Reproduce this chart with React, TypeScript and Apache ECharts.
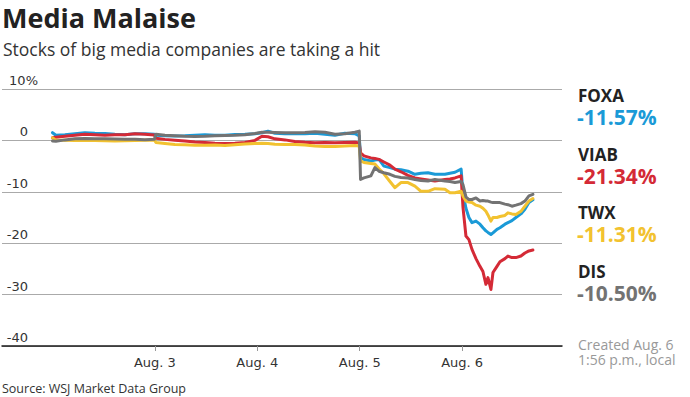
import React, { useEffect, useRef } from "react";
import * as echarts from "echarts";

// time in trading days since open of Jul 31 (1 = Aug. 3 open, ... 4 = Aug. 6 open)
const t = [
  0, 0.033, 0.121, 0.219, 0.316, 0.414, 0.512, 0.609, 0.707, 0.805, 0.902, 0.995,
  1.01, 1.098, 1.195, 1.293, 1.391, 1.488, 1.586, 1.684, 1.781, 1.879, 1.977,
  2.045, 2.104, 2.172, 2.27, 2.367, 2.465, 2.563, 2.66, 2.758, 2.855, 2.953, 2.995,
  3.008, 3.041, 3.109, 3.148, 3.188, 3.236, 3.295, 3.344, 3.402, 3.471, 3.539,
  3.598, 3.666, 3.734, 3.832, 3.881, 3.93, 3.99, 4.008, 4.037, 4.066, 4.096,
  4.135, 4.174, 4.203, 4.232, 4.252, 4.281, 4.301, 4.34, 4.369, 4.418, 4.447,
  4.486, 4.525, 4.574, 4.613, 4.652, 4.691,
];

const foxa = [
  1.5, 1.0, 1.1, 1.3, 1.5, 1.4, 1.35, 1.2, 1.1, 1.3, 1.3, 1.2,
  1.0, 0.9, 0.85, 0.9, 1.0, 1.1, 1.0, 1.0, 1.15, 1.2, 1.3,
  1.5, 1.8, 1.4, 1.3, 1.35, 1.3, 1.4, 1.2, 1.0, 1.4, 1.3, 0.9,
  -3.4, -3.7, -4.0, -3.8, -3.7, -5.0, -5.3, -5.6, -5.7, -6.0, -6.6,
  -6.4, -6.3, -6.6, -6.6, -6.4, -6.2, -5.6, -10.2, -13.2, -15.0, -16.0,
  -15.7, -16.3, -17.0, -17.6, -17.9, -18.3, -18.0, -17.3, -17.0, -16.3, -16.0,
  -15.6, -15.0, -14.3, -13.4, -12.1, -11.57,
];

const viab = [
  0.5, 0.6, 0.8, 1.0, 1.2, 1.1, 1.0, 1.1, 1.1, 1.3, 1.2, 1.05,
  0.4, 0.2, 0.05, -0.1, -0.3, -0.4, -0.55, -0.6, -0.55, -0.4, 0.0,
  0.8, 0.7, 0.3, 0.1, -0.2, -0.35, -0.45, -0.4, -0.45, -0.4, -0.35, -0.5,
  -2.4, -3.0, -3.4, -3.5, -3.7, -4.2, -4.8, -5.6, -6.1, -6.8, -7.3,
  -7.5, -7.7, -7.9, -7.6, -7.5, -7.3, -6.9, -13.0, -18.6, -19.3, -21.2,
  -23.0, -24.5, -25.5, -28.0, -26.7, -29.0, -25.7, -24.5, -23.6, -23.0, -22.5,
  -22.8, -22.8, -22.5, -21.9, -21.5, -21.34,
];

const twx = [
  0.5, 0.05, 0.05, 0.0, 0.05, 0.0, -0.05, -0.1, -0.05, 0.0, 0.05, 0.05,
  -0.4, -0.6, -0.8, -0.85, -0.95, -0.95, -0.9, -1.0, -0.85, -0.7, -0.6,
  -0.55, -0.6, -0.75, -0.8, -0.8, -0.9, -1.1, -1.2, -1.2, -1.1, -1.0, -1.1,
  -4.0, -4.3, -4.5, -4.6, -5.5, -6.5, -8.0, -9.2, -8.2, -8.2, -8.9,
  -9.9, -9.9, -9.4, -9.5, -10.2, -10.2, -9.9, -10.8, -11.8, -12.0, -12.1,
  -12.6, -12.8, -13.2, -13.8, -14.5, -15.7, -15.0, -15.0, -14.8, -14.6, -14.1,
  -14.3, -14.4, -13.8, -12.8, -11.8, -11.31,
];

const dis = [
  -0.1, -0.15, 0.1, 0.3, 0.35, 0.3, 0.3, 0.25, 0.2, 0.2, 0.15, 0.2,
  1.2, 1.0, 0.9, 0.8, 0.75, 0.8, 0.9, 0.95, 1.0, 1.1, 1.35,
  1.6, 1.6, 1.55, 1.5, 1.5, 1.55, 1.7, 1.6, 1.2, 1.3, 1.6, 1.8,
  -7.6, -7.3, -6.9, -5.3, -6.0, -6.3, -6.6, -7.0, -7.2, -7.3, -7.6,
  -7.8, -7.9, -7.6, -7.9, -8.0, -8.2, -8.0, -8.6, -11.0, -11.5, -11.5,
  -11.2, -11.8, -11.7, -11.8, -11.8, -12.0, -12.1, -12.1, -12.1, -12.4, -12.5,
  -12.8, -12.6, -12.3, -11.8, -10.8, -10.5,
];

const tickers = ["FOXA", "VIAB", "TWX", "DIS"];
const finalChanges = ["-11.57%", "-21.34%", "-11.31%", "-10.50%"];
const colors = ["#1a9ad7", "#d42a36", "#f2c230", "#737373"];
const seriesValues = [foxa, viab, twx, dis];
const dayTicks = [1, 2, 3, 4];
const dayLabels = ["Aug. 3", "Aug. 4", "Aug. 5", "Aug. 6"];
const yTicks = [10, 0, -10, -20, -30, -40];

const FONT = "'Open Sans', sans-serif";
const AXFONT = "'DejaVu Sans', sans-serif";

export default function App() {
  const ref = useRef<HTMLDivElement>(null);
  useEffect(() => {
    document.body.style.margin = "0";
    const chart = echarts.init(ref.current!, null, { renderer: "svg" });

    const legendTexts: any[] = [];
    const legendTop = [95.5, 154, 212, 271];
    tickers.forEach((tk, i) => {
      legendTexts.push({
        type: "text",
        x: 578,
        y: legendTop[i],
        style: {
          text: tk,
          font: `bold 17px ${FONT}`,
          lineHeight: 16,
          fill: "#222",
          verticalAlign: "middle",
        },
      });
      legendTexts.push({
        type: "text",
        x: 577,
        y: legendTop[i] + 21.5,
        style: {
          text: finalChanges[i],
          font: `bold 21px ${FONT}`,
          lineHeight: 20,
          fill: colors[i],
          verticalAlign: "middle",
        },
      });
    });

    const option: any = {
      animation: false,
      grid: { left: 2, right: 128, top: 89, bottom: 51, containLabel: false },
      xAxis: {
        type: "value",
        min: -0.493,
        max: 4.975,
        splitLine: { show: false },
        axisLine: { show: true, onZero: false, lineStyle: { color: "#1a1a1a", width: 1.5 } },
        axisTick: {
          show: true,
          customValues: dayTicks,
          length: 5,
          lineStyle: { color: "#999", width: 1 },
        },
        axisLabel: {
          customValues: dayTicks,
          formatter: (v: number) => dayLabels[Math.round(v) - 1] ?? "",
          color: "#333",
          fontFamily: AXFONT,
          fontSize: 13,
          margin: 10,
        },
      },
      yAxis: {
        type: "value",
        min: -40,
        max: 10,
        interval: 10,
        axisLine: { show: false },
        axisTick: { show: false },
        splitLine: { show: true, lineStyle: { color: "#aaaaaa", width: 1 } },
        axisLabel: {
          inside: true,
          margin: 0,
          align: "left",
          verticalAlign: "bottom",
          padding: [0, 0, 2, 0],
          showMinLabel: true,
          showMaxLabel: true,
          formatter: (v: number) =>
            yTicks.includes(v) ? (v === 10 ? `{w|${v}%}` : `{n|${v}}`) : "",
          rich: {
            n: { width: 26, align: "right", fontFamily: AXFONT, fontSize: 13, color: "#333" },
            w: { width: 36, align: "right", fontFamily: AXFONT, fontSize: 13, color: "#333" },
          },
        },
      },
      series: seriesValues.map((vals, i) => ({
        name: tickers[i],
        type: "line",
        showSymbol: false,
        symbol: "none",
        data: t.map((x, j) => [x, vals[j]]),
        lineStyle: { color: colors[i], width: 3, join: "round", cap: "round" },
        itemStyle: { color: colors[i] },
        z: 2 + i,
      })),
      graphic: [
        {
          type: "text",
          x: 2,
          y: 17,
          style: {
            text: "Media Malaise",
            font: `bold 27px ${FONT}`,
            fill: "#222",
            verticalAlign: "middle",
          },
        },
        {
          type: "text",
          x: 3,
          y: 49,
          style: {
            text: "Stocks of big media companies are taking a hit",
            font: `17.5px ${FONT}`,
            fill: "#333",
            verticalAlign: "middle",
          },
        },
        {
          type: "text",
          x: 2,
          y: 388,
          style: {
            text: "Source: WSJ Market Data Group",
            font: `12.5px ${FONT}`,
            fill: "#333",
            verticalAlign: "middle",
          },
        },
        {
          type: "text",
          x: 578,
          y: 344,
          style: {
            text: "Created Aug. 6",
            font: `14px ${FONT}`,
            lineHeight: 13,
            fill: "#999",
            verticalAlign: "middle",
          },
        },
        {
          type: "text",
          x: 578,
          y: 359,
          style: {
            text: "1:56 p.m., local",
            font: `14px ${FONT}`,
            lineHeight: 13,
            fill: "#999",
            verticalAlign: "middle",
          },
        },
        ...legendTexts,
      ],
    };
    chart.setOption(option);
    return () => chart.dispose();
  }, []);
  return <div ref={ref} style={{ width: 690, height: 397 }} />;
}
